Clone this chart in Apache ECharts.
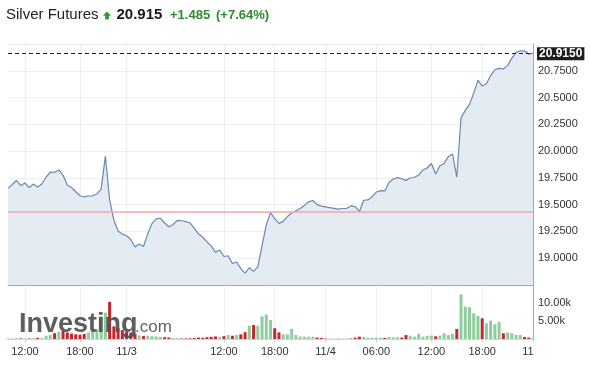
<!DOCTYPE html>
<html>
<head>
<meta charset="utf-8">
<script src="https://cdn.jsdelivr.net/npm/echarts@6/dist/echarts.min.js"></script>
<style>
  html, body { margin: 0; padding: 0; background: #fff; }
  #chart { width: 590px; height: 377px; }
</style>
</head>
<body>
<div id="chart"></div>
<script>
// 30 min bars, 11/2 midday -> 11/4 close
const prices = [
  19.652, 19.688, 19.726, 19.677, 19.702, 19.659, 19.693, 19.665, 19.693, 19.758,
  19.805, 19.802, 19.824, 19.774, 19.684, 19.660, 19.621, 19.583, 19.572, 19.581,
  19.583, 19.600, 19.646, 19.954, 19.544, 19.357, 19.255, 19.225, 19.210, 19.175,
  19.105, 19.132, 19.110, 19.227, 19.323, 19.368, 19.373, 19.329, 19.294, 19.315,
  19.353, 19.350, 19.341, 19.329, 19.278, 19.228, 19.196, 19.152, 19.115, 19.054,
  19.077, 19.016, 19.023, 18.951, 18.965, 18.903, 18.860, 18.911, 18.877, 18.919,
  19.115, 19.311, 19.427, 19.367, 19.325, 19.344, 19.390, 19.422, 19.443, 19.465,
  19.493, 19.527, 19.539, 19.501, 19.487, 19.479, 19.472, 19.466, 19.458, 19.464,
  19.466, 19.488, 19.482, 19.437, 19.541, 19.544, 19.572, 19.618, 19.631, 19.628,
  19.707, 19.740, 19.753, 19.742, 19.727, 19.749, 19.756, 19.777, 19.824, 19.842,
  19.884, 19.786, 19.863, 19.884, 19.948, 19.973, 19.758, 20.309, 20.380, 20.436,
  20.541, 20.663, 20.607, 20.629, 20.705, 20.760, 20.772, 20.768, 20.798, 20.868,
  20.922, 20.937, 20.934, 20.906, 20.915
];
const volumes = [
  150, 120, 200, 150, 120, 150, 200, 300, 250, 900,
  1100, 1600, 2000, 2200, 1800, 1500, 1300, 1200, 1400, 1800,
  2200, 2600, 6300, 7300, 10300, 3500, 3000, 2500, 2000, 1800,
  1500, 1000, 800, 900, 800, 700, 600, 500, 400, 300,
  200, 150, 150, 200, 300, 400, 350, 500, 600, 700,
  600, 800, 1100, 900, 1100, 1300, 1900, 3700, 3900, 3700,
  6300, 6800, 5300, 3000, 1850, 1300, 1300, 2800, 1100, 700,
  650, 650, 650, 400, 300, 100, 50, 50, 80, 100,
  150, 280, 370, 650, 550, 370, 370, 370, 370, 300,
  550, 460, 460, 370, 1100, 920, 650, 1400, 650, 830,
  920, 740, 920, 1570, 1100, 1400, 2800, 12400, 9000, 8800,
  7100, 6400, 5750, 4350, 5100, 4100, 4800, 1600, 1850, 1600,
  1100, 1100, 550, 370, 300
];
const tickIdx = [4, 17, 28, 51, 63, 75, 87, 100, 112, 124];
const tickText = ['12:00', '18:00', '11/3', '12:00', '18:00', '11/4', '06:00', '12:00', '18:00', '11'];
const lastPrice = 20.915;
const prevClose = 19.43;
const change = 1.485;
const changePct = 7.64;

const categories = prices.map((p, i) => i);
const green = '#8fcc9e', red = '#c1272d', grid = '#eceff2', font = 'Liberation Sans, Arial, sans-serif';

const showTick = (i) => tickIdx.indexOf(i) >= 0;

const chart = echarts.init(document.getElementById('chart'));
chart.setOption({
  animation: false,
  textStyle: { fontFamily: font },
  grid: [
    { left: 8, right: 57, top: 44, height: 241 },
    { left: 8, right: 57, top: 285, height: 54 }
  ],
  xAxis: [
    {
      type: 'category', gridIndex: 0, data: categories, boundaryGap: false,
      axisLine: { show: true, lineStyle: { color: '#a9a9a9' } },
      axisTick: { show: false }, axisLabel: { show: false },
      splitLine: { show: true, interval: showTick, lineStyle: { color: grid } }
    },
    {
      type: 'category', gridIndex: 1, data: categories, boundaryGap: false,
      axisLine: { show: true, lineStyle: { color: '#d5d5d5' } },
      axisTick: { show: true, interval: showTick, length: 3, lineStyle: { color: '#ccc' } },
      splitLine: { show: true, interval: showTick, lineStyle: { color: grid } },
      axisLabel: {
        interval: showTick, margin: 7, fontSize: 11, color: '#333',
        formatter: function (v, i) {
          const t = tickText[tickIdx.indexOf(i)];
          return i === prices.length - 1 ? '{cut|' + t + '}' : t;
        },
        rich: { cut: { fontSize: 11, color: '#333', padding: [0, 10, 0, 0] } }
      }
    }
  ],
  yAxis: [
    {
      type: 'value', gridIndex: 0, position: 'right', min: 18.75, max: 21, interval: 0.25,
      axisLine: { show: true, lineStyle: { color: '#aaa' } },
      axisTick: { show: false },
      splitLine: { lineStyle: { color: grid } },
      axisLabel: {
        margin: 5, fontSize: 11, color: '#333', showMinLabel: false, showMaxLabel: false,
        formatter: (v) => v.toFixed(4)
      }
    },
    {
      type: 'value', gridIndex: 1, position: 'right', min: 0, max: 15000, interval: 5000,
      axisLine: { show: true, lineStyle: { color: '#aaa' } },
      axisTick: { show: false },
      splitLine: { show: false },
      axisLabel: {
        margin: 5, fontSize: 11, color: '#333', showMinLabel: false, showMaxLabel: false,
        formatter: (v) => (v / 1000).toFixed(2) + 'k'
      }
    }
  ],
  series: [
    {
      type: 'line', xAxisIndex: 0, yAxisIndex: 0, data: prices,
      symbol: 'none',
      lineStyle: { color: '#6889ae', width: 1.2 },
      areaStyle: { color: '#e4ebf3', origin: 'start', opacity: 1 },
      markLine: {
        silent: true, symbol: 'none', animation: false,
        data: [
          {
            yAxis: prevClose,
            lineStyle: { type: 'solid', color: '#f2a7b0', width: 1.5 },
            label: { show: false }
          },
          {
            yAxis: lastPrice,
            lineStyle: { type: [4, 3], color: '#222', width: 1 },
            label: {
              show: true, position: 'end', distance: 4,
              formatter: lastPrice.toFixed(4),
              backgroundColor: '#1e1e1e', color: '#fff', fontWeight: 'bold',
              fontSize: 12, padding: [1, 2, 0, 2], lineHeight: 12
            }
          }
        ]
      }
    },
    {
      type: 'bar', xAxisIndex: 1, yAxisIndex: 1, barWidth: 3,
      data: volumes.map((v, i) => ({
        value: v,
        itemStyle: { color: i === 0 || prices[i] >= prices[i - 1] ? green : red }
      }))
    }
  ],
  graphic: [
    { type: 'text', left: 6, top: 7, z: 100,
      style: { text: 'Silver Futures', fontSize: 15, fontFamily: font, fill: '#222' } },
    { type: 'polygon', z: 100,
      shape: { points: [[107, 11.5], [111, 15.8], [108.8, 15.8], [108.8, 19.5], [105.2, 19.5], [105.2, 15.8], [103, 15.8]] },
      style: { fill: '#2d9a2d' } },
    { type: 'text', left: 116.5, top: 7, z: 100,
      style: { text: lastPrice.toFixed(3), fontSize: 15, fontWeight: 'bold', fontFamily: font, fill: '#1a1a1a' } },
    { type: 'text', left: 170, top: 9, z: 100,
      style: { text: '+' + change.toFixed(3), fontSize: 13, fontWeight: 'bold', fontFamily: font, fill: '#2d8c2d' } },
    { type: 'text', left: 216, top: 9, z: 100,
      style: { text: '(+' + changePct.toFixed(2) + '%)', fontSize: 13, fontWeight: 'bold', fontFamily: font, fill: '#2d8c2d' } },
    { type: 'text', left: 19, top: 311, z: 100,
      style: { text: 'Investing', fontSize: 27, fontWeight: 'bold', fontFamily: font, fill: 'rgba(80,80,80,0.92)' } },
    { type: 'text', left: 135, top: 319, z: 100,
      style: { text: '.com', fontSize: 17, fontFamily: font, fill: 'rgba(85,85,85,0.92)' } }
  ]
});
</script>
</body>
</html>
